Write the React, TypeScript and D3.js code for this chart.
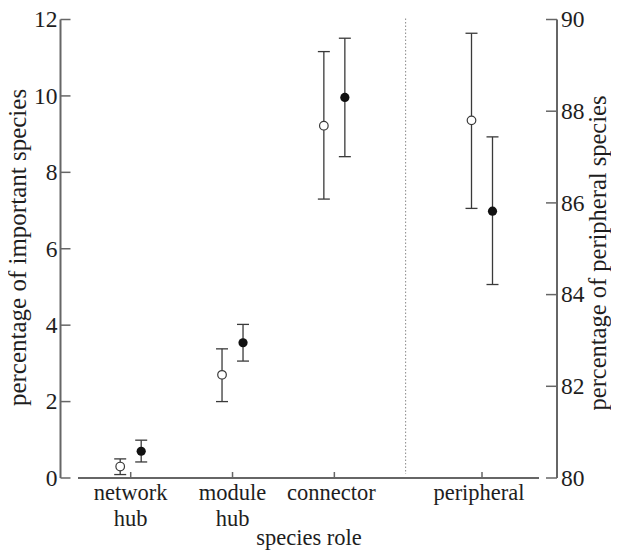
import React from "react";
import * as d3 from "d3";

const roles = ["network hub", "module hub", "connector", "peripheral"];
// open circles (first group) and filled circles (second group)
const openMean = [0.3, 2.7, 9.22, 87.8];
const openLow = [0.09, 2.0, 7.3, 85.88];
const openHigh = [0.5, 3.38, 11.16, 89.7];
const filledMean = [0.7, 3.54, 9.96, 85.82];
const filledLow = [0.42, 3.06, 8.41, 84.22];
const filledHigh = [0.99, 4.02, 11.51, 87.44];
const leftTicks = [0, 2, 4, 6, 8, 10, 12];
const rightTicks = [80, 82, 84, 86, 88, 90];

const axisColor = "#666";
const markColor = "#3a3a3a";
const textColor = "#1e1e1e";
const ts = { fontFamily: "Liberation Serif" };

const App = () => {
  const top = 19.5;
  const bottom = 478;
  const leftX = 60.5;
  const rightX = 557;

  // peripheral is set apart past the divider
  const slot = (i: number) => (i === 3 ? 3.45 : i);
  const x = d3.scaleLinear().domain([0, 3.45]).range([130.7, 482]);
  const yL = d3.scaleLinear().domain([0, 12]).range([bottom, top]);
  const yR = d3.scaleLinear().domain([80, 90]).range([bottom, top]);
  const yFor = (i: number) => (i === 3 ? yR : yL);
  const dividerX = x(2.7);

  const off = 10.5;
  const cap = 6;

  const bar = (cx: number, lo: number, hi: number, y: d3.ScaleLinear<number, number>) => (
    <g stroke={markColor} strokeWidth={1.3}>
      <line x1={cx} x2={cx} y1={y(lo)} y2={y(hi)} />
      <line x1={cx - cap} x2={cx + cap} y1={y(lo)} y2={y(lo)} />
      <line x1={cx - cap} x2={cx + cap} y1={y(hi)} y2={y(hi)} />
    </g>
  );

  const labelLines = ["network\nhub", "module\nhub", "connector", "peripheral"];

  // svg sits inside the 8px body margin; shift drawing back so it lines up with the page
  return (
    <svg width={603} height={542} display="block">
      <g transform="translate(-8,-8)">
        {/* left axis */}
        <line x1={leftX} x2={leftX} y1={top} y2={bottom} stroke={axisColor} strokeWidth={2} />
        {leftTicks.map((t) => (
          <g key={t}>
            <line x1={leftX} x2={leftX + 10} y1={yL(t)} y2={yL(t)} stroke={axisColor} strokeWidth={1.5} />
            <text x={leftX - 3} y={yL(t)} dy="0.33em" textAnchor="end" fontSize={23.5} fill={textColor} style={ts}>
              {t}
            </text>
          </g>
        ))}
        {/* right axis */}
        <line x1={rightX} x2={rightX} y1={top} y2={bottom} stroke={axisColor} strokeWidth={2} />
        {rightTicks.map((t) => (
          <g key={t}>
            <line x1={rightX - 11} x2={rightX} y1={yR(t)} y2={yR(t)} stroke={axisColor} strokeWidth={1.5} />
            <text x={rightX + 4} y={yR(t)} dy="0.33em" fontSize={23.5} fill={textColor} style={ts}>
              {t}
            </text>
          </g>
        ))}
        {/* bottom axis */}
        <line x1={78} x2={539} y1={bottom} y2={bottom} stroke={axisColor} strokeWidth={2} />
        {roles.map((r, i) => (
          <g key={r}>
            <line x1={x(slot(i))} x2={x(slot(i))} y1={bottom} y2={bottom - 6} stroke={axisColor} strokeWidth={1.5} />
            {labelLines[i].split("\n").map((ln, k) => (
              <text
                key={k}
                x={x(slot(i)) - (i >= 2 ? 3 : 0)}
                y={500 + k * 25.5}
                textAnchor="middle"
                fontSize={22.5}
                fill={textColor}
                style={ts}
              >
                {ln}
              </text>
            ))}
          </g>
        ))}
        <text x={309} y={545} textAnchor="middle" fontSize={22.5} fill={textColor} style={ts}>
          species role
        </text>
        <text transform="translate(25.5,247.5) rotate(-90)" textAnchor="middle" fontSize={25} fill={textColor} style={ts}>
          percentage of important species
        </text>
        <text transform="translate(606,253) rotate(-90)" textAnchor="middle" fontSize={24.5} fill={textColor} style={ts}>
          percentage of peripheral species
        </text>
        {/* divider */}
        <line
          x1={dividerX}
          x2={dividerX}
          y1={top - 1}
          y2={bottom - 4}
          stroke="#888"
          strokeWidth={1}
          strokeDasharray="1.5,2"
        />
        {/* points */}
        {roles.map((r, i) => {
          const cx = x(slot(i));
          const y = yFor(i);
          return (
            <g key={r}>
              {bar(cx - off, openLow[i], openHigh[i], y)}
              <circle cx={cx - off} cy={y(openMean[i])} r={4.3} fill="#fff" stroke={markColor} strokeWidth={1.2} />
              {bar(cx + off, filledLow[i], filledHigh[i], y)}
              <circle cx={cx + off} cy={y(filledMean[i])} r={4.6} fill="#111" />
            </g>
          );
        })}
      </g>
    </svg>
  );
};

export default App;
